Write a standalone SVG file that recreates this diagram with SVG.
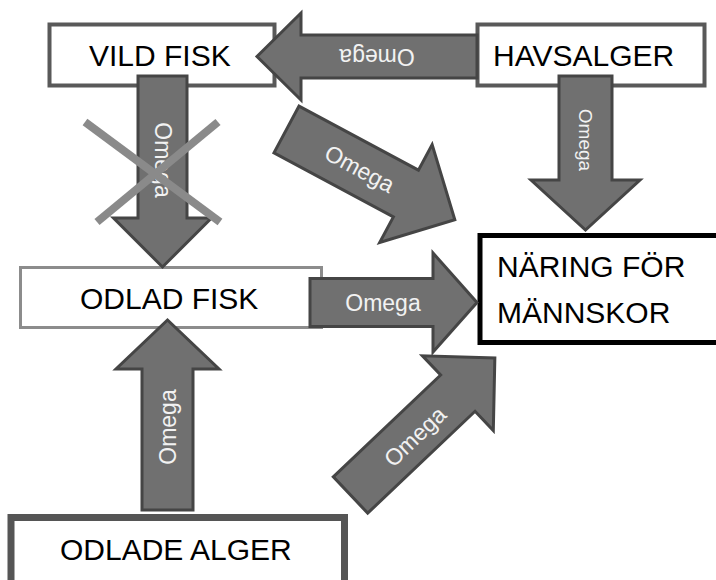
<svg xmlns="http://www.w3.org/2000/svg" width="716" height="580" viewBox="0 0 716 580">
<style>
.box{fill:#ffffff}
.lbl{font-family:"Liberation Sans",Arial,sans-serif;font-size:30px;fill:#000000}
.arr{fill:#707070;stroke:#454545;stroke-width:3;stroke-linejoin:miter}
.om{font-family:"Liberation Sans",Arial,sans-serif;font-size:23px;fill:#f2f2f2;text-anchor:middle;dominant-baseline:central}
.x{stroke:#8a8a8a;stroke-width:8;stroke-linecap:butt}
</style>
<rect width="716" height="580" fill="#ffffff"/>
<g id="vild-fisk">
<rect class="box" x="49.5" y="24.5" width="225" height="61" stroke="#595959" stroke-width="4"/>
<text class="lbl" x="89" y="66">VILD FISK</text>
</g>
<g id="havsalger">
<rect class="box" x="477.5" y="24.5" width="227" height="61" stroke="#595959" stroke-width="4"/>
<text class="lbl" x="493" y="66">HAVSALGER</text>
</g>
<g id="odlad-fisk">
<rect class="box" x="20.5" y="267.5" width="301" height="60" stroke="#8c8c8c" stroke-width="3"/>
<text class="lbl" x="80" y="309">ODLAD FISK</text>
</g>
<g id="odlade-alger">
<rect class="box" x="11" y="517.5" width="333.5" height="80" stroke="#555555" stroke-width="7"/>
<text class="lbl" x="60" y="560">ODLADE ALGER</text>
</g>
<g id="naring">
<rect class="box" x="480" y="235.5" width="250" height="107" stroke="#000000" stroke-width="5"/>
<text class="lbl" x="497" y="277">NÄRING FÖR</text>
<text class="lbl" x="497" y="323">MÄNNSKOR</text>
</g>
<g id="connectors">
<g id="havsalger-vild">
<polygon class="arr" points="477,35 301,35 301,13 257,56.5 301,100 301,78 477,78"/>
<text class="om" transform="translate(377,56.5) rotate(180)">Omega</text>
</g>
<g id="vild-odlad">
<polygon class="arr" points="138,76 187,76 187,218 211.5,218 162.5,267 113.5,218 138,218"/>
<text class="om" transform="translate(162.5,160) rotate(90)">Omega</text>
<line class="x" x1="85" y1="122" x2="220" y2="222"/>
<line class="x" x1="218" y1="122" x2="97" y2="222"/>
</g>
<g id="havsalger-naring">
<polygon class="arr" points="559,76 612,76 612,180 640,180 585.5,230 531,180 559,180"/>
<text class="om" style="font-size:19px" transform="translate(585.5,140) rotate(90)">Omega</text>
</g>
<g id="vild-naring" transform="translate(286.5,129.5) rotate(28.2)">
<polygon class="arr" points="0,-26.5 135.5,-26.5 135.5,-55.5 191,0 135.5,55.5 135.5,26.5 0,26.5"/>
<text class="om" x="83" y="0">Omega</text>
</g>
<g id="odlad-naring">
<polygon class="arr" points="310,278.5 433,278.5 433,253 477,302.5 433,352 433,326.5 310,326.5"/>
<text class="om" x="383" y="302.5">Omega</text>
</g>
<g id="alger-odlad">
<polygon class="arr" points="142,510 142,369 116,369 167.5,320 219,369 193,369 193,510"/>
<text class="om" transform="translate(167.5,427) rotate(-90)">Omega</text>
</g>
<g id="alger-naring" transform="translate(350.5,495) rotate(-43.5)">
<polygon class="arr" points="0,-25 148,-25 148,-51.5 199,0 148,51.5 148,25 0,25"/>
<text class="om" x="87" y="2">Omega</text>
</g>
</g>
</svg>
